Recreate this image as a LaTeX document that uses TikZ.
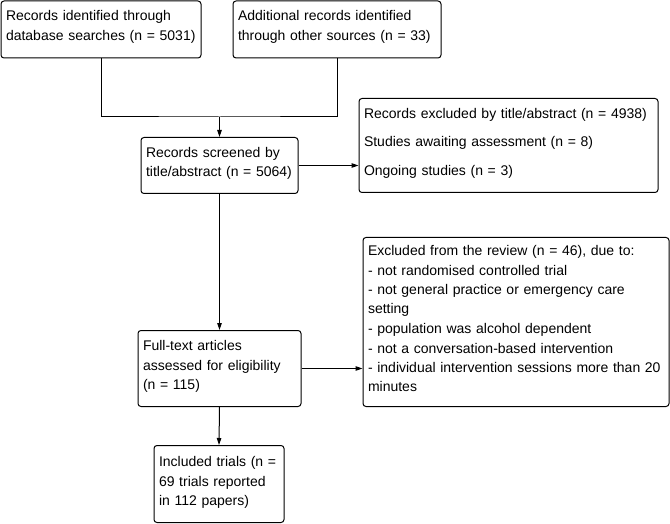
\documentclass[tikz,border=0pt]{standalone}
\usepackage{fontspec}
\setmainfont{Liberation Sans}
\usetikzlibrary{arrows.meta}

\begin{document}
\begin{tikzpicture}[x=1pt, y=-1pt, line width=1pt, >={Triangle[length=7pt,width=4.5pt]},
  box/.style={draw, rounded corners=3pt, anchor=north west, align=left,
    inner xsep=5pt, inner ysep=0pt, font=\fontsize{14}{19.5}\selectfont}]
  \useasboundingbox (0,0) rectangle (670,524);
  \node[box, text width=190pt, text height=20pt, text depth=37pt] (ident) at (0.5,0.5)
    {Records identified through\\database searches (n = 5031)};
  \node[box, text width=198pt, text height=20pt, text depth=37pt] (addit) at (232.5,0.5)
    {Additional records identified\\through other sources (n = 33)};
  \node[box, text width=147pt, text height=20pt, text depth=36pt] (screen) at (140.5,137)
    {Records screened by\\title/abstract (n = 5064)};
  \node[box, text width=289pt, text height=20pt, text depth=74pt] (excl) at (358.5,98)
    {Records excluded by title/abstract (n = 4938)\\[9pt]Studies awaiting assessment (n = 8)\\[9pt]Ongoing studies (n = 3)};
  \node[box, text width=153pt, text height=20pt, text depth=56pt] (full) at (137.5,330)
    {Full-text articles\\assessed for eligibility\\(n = 115)};
  \node[box, text width=296pt, text height=18pt, text depth=151pt] (review) at (362.5,237)
    {Excluded from the review (n = 46), due to:\\- not randomised controlled trial\\- not general practice or emergency care\\setting\\- population was alcohol dependent\\- not a conversation-based intervention\\- individual intervention sessions more than 20\\minutes};
  \node[box, text width=120pt, text height=21pt, text depth=56pt] (incl) at (153.5,445)
    {Included trials (n =\\69 trials reported\\in 112 papers)};
  \coordinate (merge) at (screen.north |- 0,117);
  \draw (ident.south) |- (merge) -| (addit.south);
  \draw[->] (merge) -- (screen.north);
  \draw[->] (screen.east) -- (screen.east -| excl.west);
  \draw[->] (screen.south) -- (full.north);
  \draw[->] (full.east) -- (full.east -| review.west);
  \draw[->] (full.south) -- (incl.north);
\end{tikzpicture}
\end{document}
